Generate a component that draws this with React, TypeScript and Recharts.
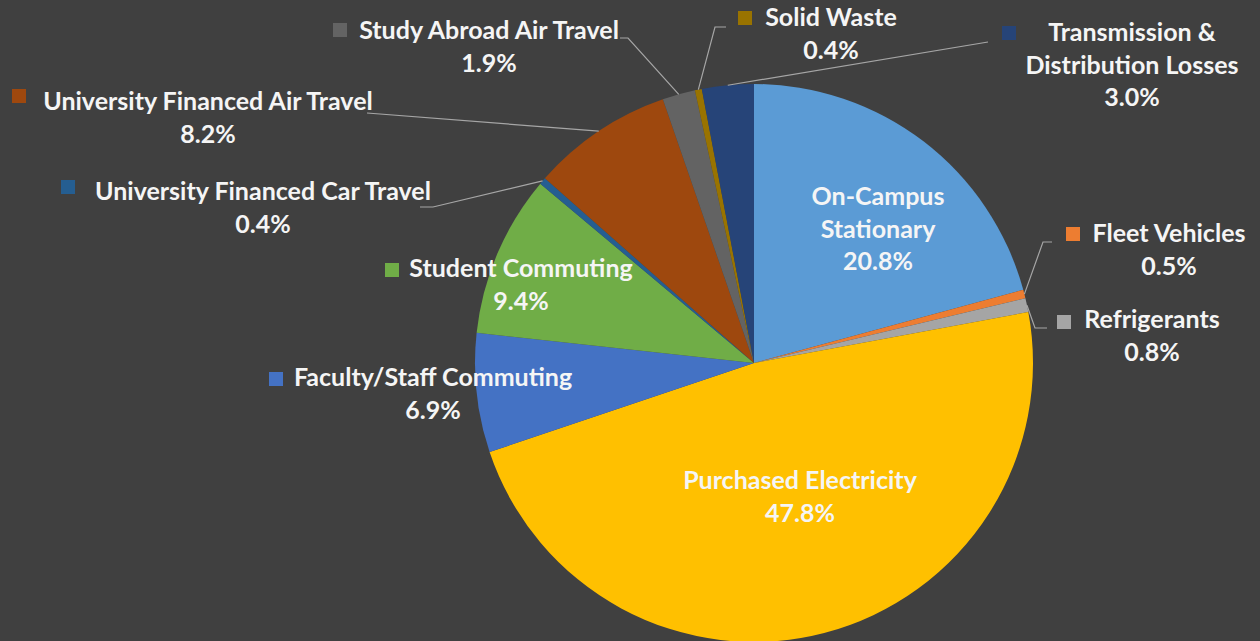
import React from "react";
import { PieChart, Pie, Cell } from "recharts";

const CATEGORIES = [
  "On-Campus Stationary",
  "Fleet Vehicles",
  "Refrigerants",
  "Purchased Electricity",
  "Faculty/Staff Commuting",
  "Student Commuting",
  "University Financed Car Travel",
  "University Financed Air Travel",
  "Study Abroad Air Travel",
  "Solid Waste",
  "Transmission & Distribution Losses",
];
const SHARES = [20.8, 0.5, 0.8, 47.8, 6.9, 9.4, 0.4, 8.2, 1.9, 0.4, 3.0];
const COLORS = [
  "#5b9bd5",
  "#ed7d31",
  "#a5a5a5",
  "#ffc000",
  "#4472c4",
  "#70ad47",
  "#255e91",
  "#9e480e",
  "#636363",
  "#997300",
  "#264478",
];
const LABEL_LINES: string[][] = [
  ["On-Campus", "Stationary"],
  ["Fleet Vehicles"],
  ["Refrigerants"],
  ["Purchased Electricity"],
  ["Faculty/Staff Commuting"],
  ["Student Commuting"],
  ["University Financed Car Travel"],
  ["University Financed Air Travel"],
  ["Study Abroad Air Travel"],
  ["Solid Waste"],
  ["Transmission &", "Distribution Losses"],
];

const data = CATEGORIES.map((name, i) => ({ name, value: SHARES[i] }));

type Layout = {
  x: number;
  y: number;
  marker?: [number, number];
  leader?: [number, number][];
};

// label placement (chart coordinates): text centre x, first baseline y, legend key, leader start
const LAYOUT: Layout[] = [
  { x: 878, y: 205 },
  { x: 1169, y: 242, marker: [1066, 227], leader: [[1052, 242], [1043, 242]] },
  { x: 1152, y: 328, marker: [1057, 315], leader: [[1047, 328], [1035, 328]] },
  { x: 800, y: 489 },
  { x: 433, y: 386, marker: [269, 372] },
  { x: 521, y: 277, marker: [385, 263] },
  { x: 263, y: 200, marker: [61, 180], leader: [[420, 207], [433, 207]] },
  { x: 208, y: 110, marker: [12, 89], leader: [[367, 113]] },
  { x: 489, y: 39, marker: [333, 23], leader: [[620, 38], [628, 38]] },
  { x: 831, y: 26, marker: [738, 11], leader: [[726, 27], [715, 27]] },
  { x: 1132, y: 41, marker: [1002, 26], leader: [[988, 42]] },
];

const RADIAN = Math.PI / 180;
const LINE_H = 32.5;
const FONT = "Lato, 'Open Sans', sans-serif";

const renderLabel = (props: any) => {
  const { cx, cy, midAngle, outerRadius, index, value } = props;
  const lay = LAYOUT[index];
  const lines = LABEL_LINES[index];
  const ax = cx + outerRadius * Math.cos(-midAngle * RADIAN);
  const ay = cy + outerRadius * Math.sin(-midAngle * RADIAN);
  const pts = lay.leader ? [...lay.leader, [ax, ay]] : null;
  return (
    <g key={`lbl-${index}`}>
      {pts && (
        <polyline
          points={pts.map((p) => p.join(",")).join(" ")}
          fill="none"
          stroke="#a6a6a6"
          strokeWidth={1.2}
        />
      )}
      {lay.marker && (
        <rect x={lay.marker[0]} y={lay.marker[1]} width={14} height={14} fill={COLORS[index]} />
      )}
      {[...lines, `${Number(value).toFixed(1)}%`].map((t, k) => (
        <text
          key={k}
          x={lay.x}
          y={lay.y + k * LINE_H}
          textAnchor="middle"
          fill="#f5f5f5"
          fontFamily={FONT}
          fontWeight={700}
          fontSize={25}
        >
          {t}
        </text>
      ))}
    </g>
  );
};

export default function App() {
  return (
    <div
      style={{
        position: "absolute",
        left: 0,
        top: 0,
        width: 1260,
        height: 641,
        background: "#404040",
        overflow: "hidden",
      }}
    >
      <PieChart width={1260} height={641} margin={{ top: 0, right: 0, bottom: 0, left: 0 }}>
        <Pie
          data={data}
          dataKey="value"
          nameKey="name"
          cx={754}
          cy={363}
          outerRadius={279}
          startAngle={90}
          endAngle={-270}
          stroke="none"
          label={renderLabel}
          labelLine={false}
          isAnimationActive={false}
        >
          {data.map((d, i) => (
            <Cell key={d.name} fill={COLORS[i]} />
          ))}
        </Pie>
      </PieChart>
    </div>
  );
}
